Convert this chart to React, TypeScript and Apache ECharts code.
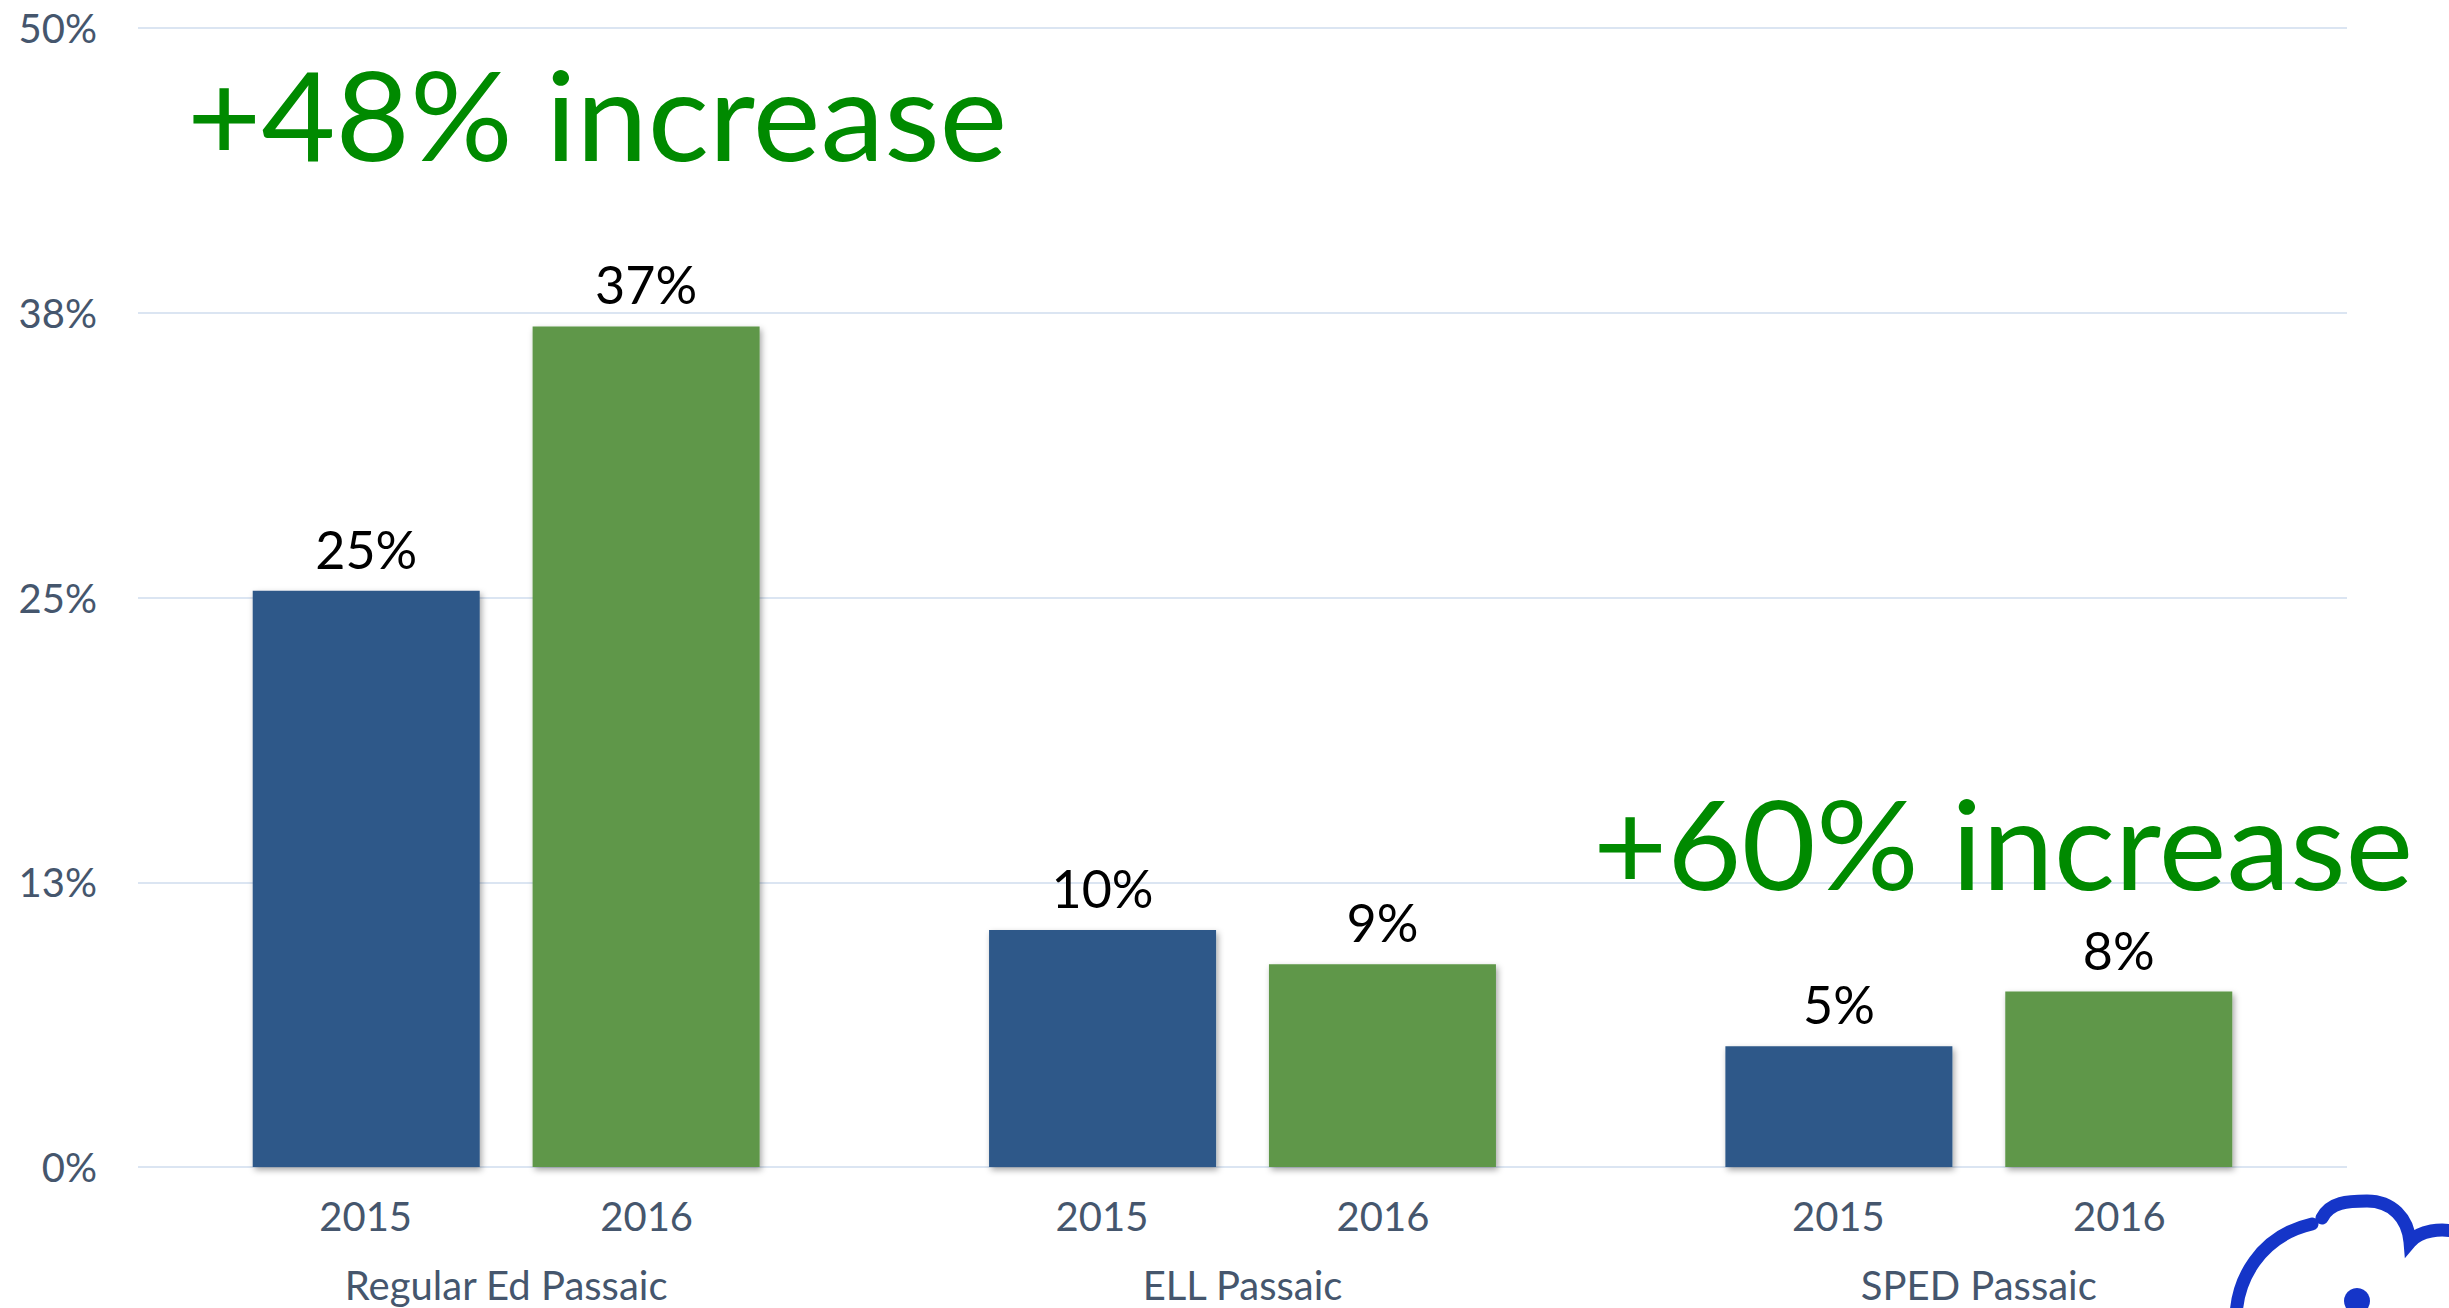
import React, { useEffect, useRef } from "react";
import * as echarts from "echarts";

const categories = ["Regular Ed Passaic", "ELL Passaic", "SPED Passaic"];
const years = ["2015", "2016"];
const values2015 = [25.3, 10.4, 5.3];
const values2016 = [36.9, 8.9, 7.7];
const yMin = 0;
const yMax = 50;
const yInterval = 12.5;
const callouts = ["+48% increase", "+60% increase"];

const FONT = "Lato, 'Noto Sans', sans-serif";
const AXIS_COLOR = "#45566d";

const cloudPath =
  "M 36 140 C 36 100 60 56 112 44 " +
  "M 122 38 C 130 22 148 21 167 21 C 192 21 208 38 210 62 " +
  "C 220 50 240 48 260 52 C 280 58 290 75 290 95";

export default function App() {
  const ref = useRef<HTMLDivElement>(null);
  useEffect(() => {
    if (!ref.current) return;
    try {
      echarts.graphic.registerShape("logo", echarts.graphic.extendPath(cloudPath, {}));
    } catch (e) {}
    const chart = echarts.init(ref.current, undefined, { renderer: "svg" });
    const barLabel = {
      show: true,
      position: "top",
      distance: 16,
      fontSize: 52,
      fontFamily: FONT,
      color: "#000000",
      formatter: (p: any) => Math.round(p.value) + "%",
    };
    const shadow = {
      shadowColor: "rgba(0,0,0,0.35)",
      shadowBlur: 6,
      shadowOffsetX: 2,
      shadowOffsetY: 3,
    };
    chart.setOption({
      animation: false,
      backgroundColor: "#ffffff",
      grid: { left: 138, right: 102, top: 28, bottom: 141, containLabel: false },
      xAxis: {
        type: "category",
        data: categories,
        axisLine: { show: false },
        axisTick: { show: false },
        axisLabel: {
          margin: 14,
          interval: 0,
          formatter: (v: string) => `{y|${years[0]}}{y|${years[1]}}\n{c|${v}}`,
          rich: {
            y: {
              width: 281,
              align: "center",
              fontSize: 40,
              lineHeight: 69,
              fontFamily: FONT,
              color: AXIS_COLOR,
            },
            c: {
              align: "center",
              fontSize: 40,
              lineHeight: 69,
              fontFamily: FONT,
              color: AXIS_COLOR,
            },
          },
        },
      },
      yAxis: {
        type: "value",
        min: yMin,
        max: yMax,
        interval: yInterval,
        axisLine: { show: false },
        axisTick: { show: false },
        axisLabel: {
          margin: 41,
          fontSize: 40,
          fontFamily: FONT,
          color: AXIS_COLOR,
          formatter: (v: number) => Math.round(v) + "%",
        },
        splitLine: { lineStyle: { color: "#dbe5f2", width: 2 } },
      },
      series: [
        {
          name: years[0],
          type: "bar",
          data: values2015,
          barWidth: 227,
          barGap: "23.3%",
          itemStyle: { color: "#2e5889", ...shadow },
          label: barLabel,
        },
        {
          name: years[1],
          type: "bar",
          data: values2016,
          barWidth: 227,
          barGap: "23.3%",
          itemStyle: { color: "#5e9749", ...shadow },
          label: barLabel,
        },
      ],
      graphic: [
        {
          type: "text",
          x: 187,
          y: 50,
          scaleX: 1.025,
          style: {
            text: callouts[0],
            fontSize: 125,
            fontFamily: FONT,
            fill: "#008a00",
            textVerticalAlign: "top",
          },
          z: 100,
        },
        {
          type: "text",
          x: 1593,
          y: 779,
          scaleX: 1.025,
          style: {
            text: callouts[1],
            fontSize: 125,
            fontFamily: FONT,
            fill: "#008a00",
            textVerticalAlign: "top",
          },
          z: 100,
        },
        {
          type: "logo",
          x: 2200,
          y: 1180,
          style: { fill: "none", stroke: "#1535c8", lineWidth: 13, lineCap: "round" },
          z: 100,
        },
        {
          type: "circle",
          shape: { cx: 2357, cy: 1301, r: 13 },
          style: { fill: "#1535c8" },
          z: 100,
        },
      ],
    });
    return () => chart.dispose();
  }, []);
  return (
    <div
      ref={ref}
      style={{ position: "absolute", left: 0, top: 0, width: 2449, height: 1308 }}
    />
  );
}
